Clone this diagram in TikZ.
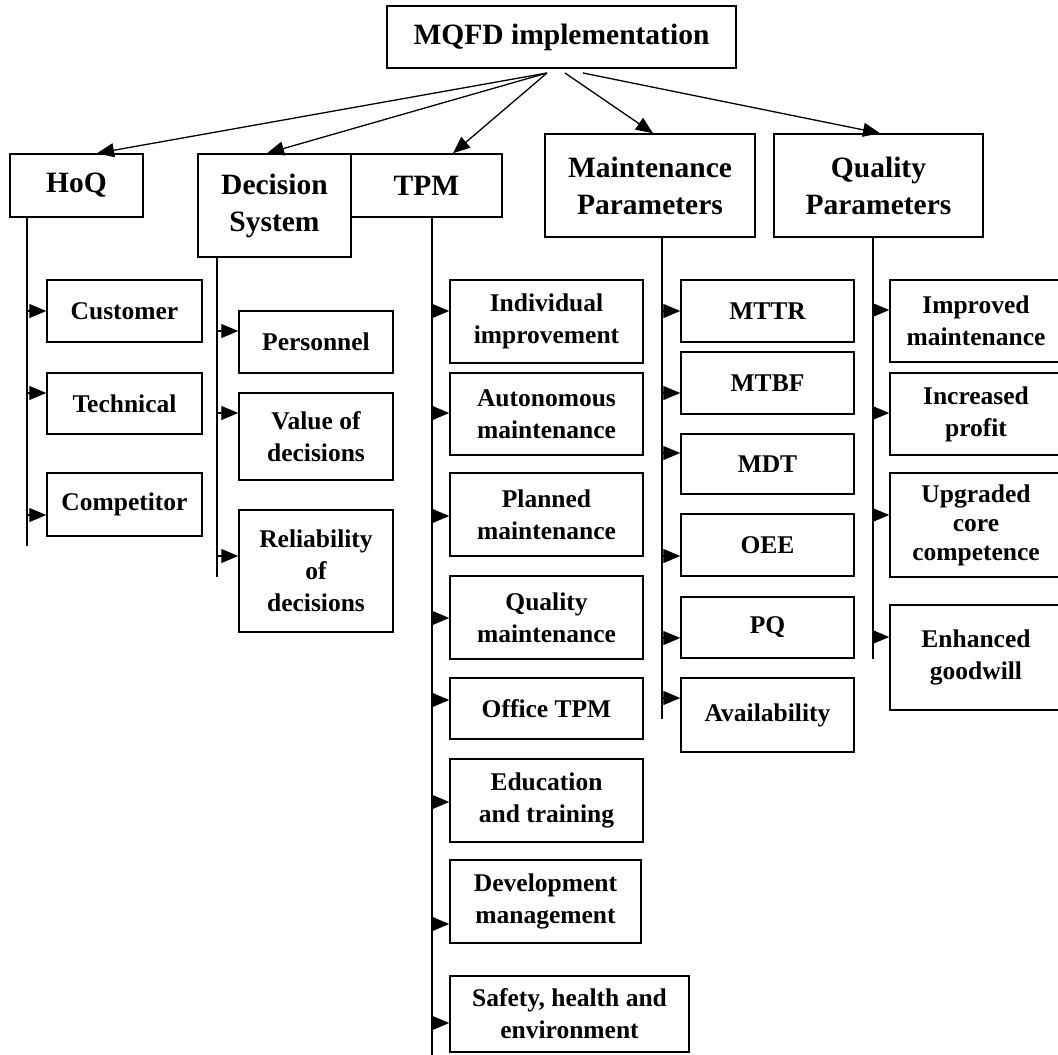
\documentclass[tikz,border=0pt]{standalone}
\usepackage{fontspec}
\setmainfont{Liberation Serif}
\usetikzlibrary{arrows.meta}
\tikzset{
  hdr/.style={draw, line width=1.5pt, inner sep=0pt, align=center,
    font=\bfseries\fontsize{29.5}{37}\selectfont},
  sub/.style={draw, line width=1.5pt, inner sep=0pt, align=center,
    font=\bfseries\fontsize{25.5}{32}\selectfont},
  arr/.style={line width=1.3pt, -{Triangle[length=17pt,width=14pt]}},
  br/.style={line width=1.3pt, -{Triangle[length=17pt,width=14pt]}},
  spine/.style={line width=1.4pt}
}
\begin{document}
\begin{tikzpicture}[x=1pt,y=-1pt]
\useasboundingbox (0,0) rectangle (1058,1055);
\clip (0,0) rectangle (1058,1055);

% top level
\node[hdr, minimum width=349pt, minimum height=62pt] (mqfd) at (561.5,37) {MQFD implementation};

\node[hdr, minimum width=133pt, minimum height=63pt] (hoq) at (76.5,185.5) {HoQ};
\node[hdr, minimum width=153pt, minimum height=103pt] (dec) at (274.5,205.5) {Decision\\System};
\node[hdr, minimum width=151pt, minimum height=63pt] (tpm) at (426.5,185.5) {TPM};
\node[hdr, minimum width=210pt, minimum height=103pt] (mp) at (650,185.5) {Maintenance\\Parameters};
\node[hdr, minimum width=209pt, minimum height=103pt] (qp) at (878.5,185.5) {Quality\\Parameters};

\coordinate (oA) at (547,73);
\coordinate (oB) at (565,73);
\coordinate (oC) at (583,73);
\draw[arr] (oA) -- (hoq.north -| 97,0);
\draw[arr] (oA) -- (dec.north -| 267,0);
\draw[arr] (oA) -- (tpm.north -| 453,0);
\draw[arr] (oB) -- (mp.north -| 653,0);
\draw[arr] (oC) -- (qp.north -| 880,0);

% HoQ column
\node[sub, minimum width=155pt, minimum height=62pt] (cust) at (124.5,311) {Customer};
\node[sub, minimum width=155pt, minimum height=61pt] (tech) at (124.5,403.5) {Technical};
\node[sub, minimum width=155pt, minimum height=63pt] (comp) at (124.5,504.5) {Competitor};
\coordinate (hoqEnd) at (27,546);
\draw[spine] (hoq.south -| hoqEnd) -- (hoqEnd);
\draw[br] (hoqEnd |- 0,311) -- (cust.west |- 0,311);
\draw[br] (hoqEnd |- 0,393) -- (tech.west |- 0,393);
\draw[br] (hoqEnd |- 0,515) -- (comp.west |- 0,515);

% Decision column
\node[sub, minimum width=154pt, minimum height=62pt] (pers) at (316,342) {Personnel};
\node[sub, minimum width=154pt, minimum height=87pt] (val) at (316,436.5) {Value of\\decisions};
\node[sub, minimum width=154pt, minimum height=122pt] (rel) at (316,571) {Reliability\\of\\decisions};
\coordinate (decEnd) at (217,577);
\draw[spine] (dec.south -| decEnd) -- (decEnd);
\draw[br] (decEnd |- 0,331) -- (pers.west |- 0,331);
\draw[br] (decEnd |- 0,413) -- (val.west |- 0,413);
\draw[br] (decEnd |- 0,556) -- (rel.west |- 0,556);

% TPM column
\node[sub, minimum width=193pt, minimum height=83pt] (indiv) at (546.5,321.5) {Individual\\improvement};
\node[sub, minimum width=193pt, minimum height=82pt] (auton) at (546.5,414) {Autonomous\\maintenance};
\node[sub, minimum width=193pt, minimum height=83pt] (plan) at (546.5,514.5) {Planned\\maintenance};
\node[sub, minimum width=193pt, minimum height=83pt] (qmain) at (546.5,617.5) {Quality\\maintenance};
\node[sub, minimum width=193pt, minimum height=61pt] (office) at (546.5,708.5) {Office TPM};
\node[sub, minimum width=193pt, minimum height=83pt] (edu) at (546.5,800.5) {Education\\and training};
\node[sub, minimum width=191pt, minimum height=83pt] (dev) at (545.5,901.5) {Development\\management};
\node[sub, minimum width=239pt, minimum height=76pt] (safe) at (569.5,1014) {Safety, health and\\environment};
\coordinate (tpmEnd) at (432,1060);
\draw[spine] (tpm.south -| tpmEnd) -- (tpmEnd);
\draw[br] (tpmEnd |- 0,311) -- (indiv.west |- 0,311);
\draw[br] (tpmEnd |- 0,413) -- (auton.west |- 0,413);
\draw[br] (tpmEnd |- 0,516) -- (plan.west |- 0,516);
\draw[br] (tpmEnd |- 0,618) -- (qmain.west |- 0,618);
\draw[br] (tpmEnd |- 0,700) -- (office.west |- 0,700);
\draw[br] (tpmEnd |- 0,802) -- (edu.west |- 0,802);
\draw[br] (tpmEnd |- 0,924) -- (dev.west |- 0,924);
\draw[br] (tpmEnd |- 0,1023) -- (safe.west |- 0,1023);

% Maintenance parameters column
\node[sub, minimum width=173pt, minimum height=62pt] (mttr) at (767.5,311) {MTTR};
\node[sub, minimum width=173pt, minimum height=62pt] (mtbf) at (767.5,383) {MTBF};
\node[sub, minimum width=173pt, minimum height=60pt] (mdt) at (767.5,464) {MDT};
\node[sub, minimum width=173pt, minimum height=62pt] (oee) at (767.5,545) {OEE};
\node[sub, minimum width=173pt, minimum height=61pt] (pq) at (767.5,627.5) {PQ};
\node[sub, minimum width=173pt, minimum height=74pt] (avail) at (767.5,715) {Availability};
\coordinate (mpEnd) at (662,719);
\draw[spine] (mp.south -| mpEnd) -- (mpEnd);
\draw[br] (mpEnd |- 0,311) -- (mttr.west |- 0,311);
\draw[br] (mpEnd |- 0,393) -- (mtbf.west |- 0,393);
\draw[br] (mpEnd |- 0,453) -- (mdt.west |- 0,453);
\draw[br] (mpEnd |- 0,556) -- (oee.west |- 0,556);
\draw[br] (mpEnd |- 0,638) -- (pq.west |- 0,638);
\draw[br] (mpEnd |- 0,698) -- (avail.west |- 0,698);

% Quality parameters column
\node[sub, minimum width=172pt, minimum height=82pt] (impr) at (976,321) {Improved\\maintenance};
\node[sub, minimum width=172pt, minimum height=82pt] (prof) at (976,414) {Increased\\profit};
\node[sub, minimum width=172pt, minimum height=104pt,
  font=\bfseries\fontsize{25.5}{29}\selectfont] (upg) at (976,525) {Upgraded\\core\\competence};
\node[sub, minimum width=172pt, minimum height=105pt] (good) at (976,657.5) {Enhanced\\goodwill};
\coordinate (qpEnd) at (873,659);
\draw[spine] (qp.south -| qpEnd) -- (qpEnd);
\draw[br] (qpEnd |- 0,310) -- (impr.west |- 0,310);
\draw[br] (qpEnd |- 0,413) -- (prof.west |- 0,413);
\draw[br] (qpEnd |- 0,515) -- (upg.west |- 0,515);
\draw[br] (qpEnd |- 0,637) -- (good.west |- 0,637);
\end{tikzpicture}
\end{document}
